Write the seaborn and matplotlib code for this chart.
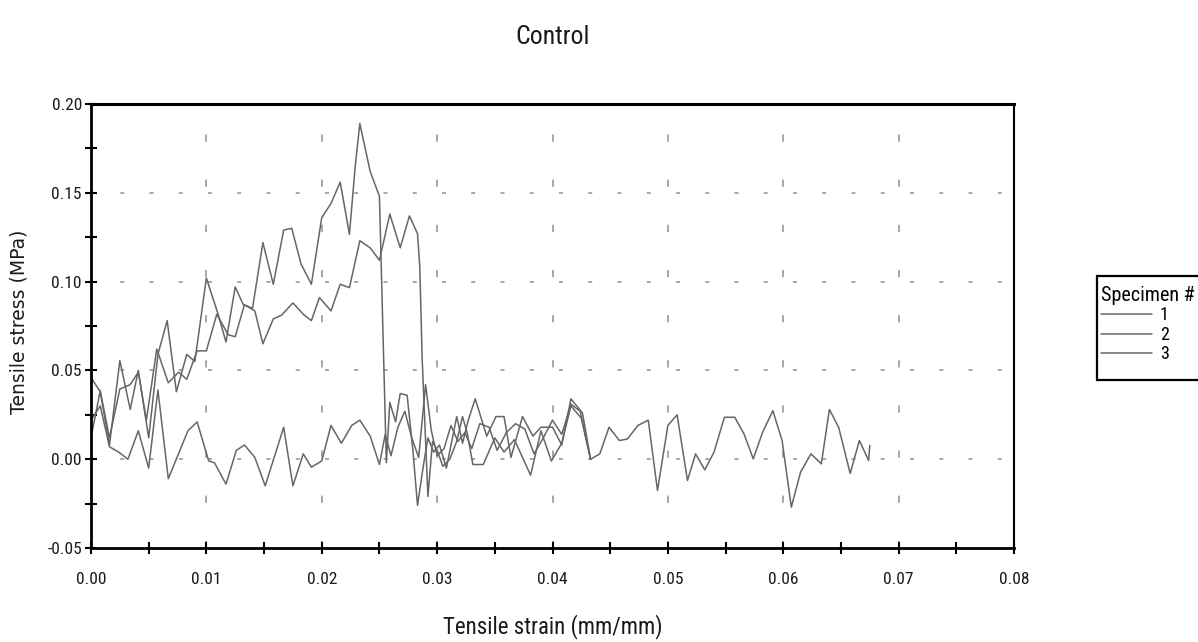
import numpy as np
import pandas as pd
import matplotlib
matplotlib.use("Agg")
import matplotlib.pyplot as plt
import seaborn as sns
from matplotlib.ticker import MultipleLocator, FormatStrFormatter
from matplotlib.patches import Rectangle
from matplotlib import font_manager

# ---------------- data ----------------
specimens = ["1", "2", "3"]

spec1_strain = [0.0000, 0.0008, 0.0016, 0.0025, 0.0034, 0.0041, 0.0050, 0.0058, 0.0066, 0.0074,
                0.0083, 0.0090, 0.0100, 0.0110, 0.0117, 0.0125, 0.0132, 0.0140, 0.0149, 0.0158,
                0.0167, 0.0174, 0.0182, 0.0191, 0.0200, 0.0208, 0.0216, 0.0224, 0.0229, 0.0233,
                0.0242, 0.0250, 0.0256, 0.0259, 0.0264, 0.0268, 0.0274, 0.0279, 0.0283, 0.0288,
                0.0292, 0.0297, 0.0302, 0.0308, 0.0317, 0.0322, 0.0327, 0.0333, 0.0343, 0.0351,
                0.0358, 0.0364, 0.0374, 0.0383, 0.0390, 0.0400, 0.0408, 0.0416, 0.0426, 0.0433]
spec1_stress = [0.046, 0.038, 0.008, 0.0555, 0.028, 0.050, 0.012, 0.059, 0.078, 0.038,
                0.059, 0.055, 0.102, 0.082, 0.066, 0.097, 0.087, 0.085, 0.122, 0.0985,
                0.129, 0.130, 0.110, 0.0985, 0.136, 0.144, 0.156, 0.1266, 0.165, 0.189,
                0.162, 0.148, -0.002, 0.032, 0.021, 0.037, 0.036, 0.005, -0.026, -0.004,
                0.012, 0.004, 0.008, -0.005, 0.024, 0.009, 0.022, 0.034, 0.013, 0.024,
                0.024, 0.001, 0.024, 0.013, 0.018, 0.018, 0.008, 0.034, 0.026, 0.000]

spec2_strain = [0.0000, 0.0008, 0.0016, 0.0025, 0.0034, 0.0041, 0.0048, 0.0057, 0.0067, 0.0076,
                0.0083, 0.0092, 0.0100, 0.0109, 0.0119, 0.0125, 0.0133, 0.0142, 0.0149, 0.0158,
                0.0165, 0.0175, 0.0184, 0.0191, 0.0198, 0.0208, 0.0216, 0.0224, 0.0233, 0.0242,
                0.0250, 0.0259, 0.0268, 0.0276, 0.0283, 0.0285, 0.0287, 0.0292, 0.0296, 0.0300,
                0.0305, 0.0311, 0.0317, 0.0322, 0.0326, 0.0331, 0.0340, 0.0350, 0.0358, 0.0367,
                0.0381, 0.0390, 0.0399, 0.0408, 0.0416, 0.0425, 0.0433]
spec2_stress = [0.012, 0.0386, 0.012, 0.0395, 0.042, 0.049, 0.022, 0.062, 0.043, 0.049,
                0.045, 0.061, 0.061, 0.0816, 0.070, 0.069, 0.087, 0.0835, 0.065, 0.079,
                0.081, 0.088, 0.0816, 0.078, 0.091, 0.0835, 0.0985, 0.0966, 0.123, 0.119,
                0.112, 0.138, 0.119, 0.137, 0.127, 0.108, 0.057, -0.021, 0.010, 0.005,
                -0.004, 0.000, 0.010, 0.024, 0.015, -0.003, -0.003, 0.012, 0.004, 0.011,
                -0.009, 0.016, -0.001, 0.009, 0.030, 0.023, 0.000]

spec3_strain = [0.0000, 0.0008, 0.0016, 0.0024, 0.0032, 0.0041, 0.0050, 0.0058, 0.0067, 0.0084,
                0.0092, 0.0102, 0.0107, 0.0117, 0.0126, 0.0133, 0.0142, 0.0151, 0.0167, 0.0175,
                0.0184, 0.0191, 0.0200, 0.0208, 0.0217, 0.0226, 0.0233, 0.0242, 0.0250, 0.0255,
                0.0260, 0.0266, 0.0272, 0.0278, 0.0284, 0.0290, 0.0295, 0.0300, 0.0306, 0.0312,
                0.0318, 0.0324, 0.0330, 0.0337, 0.0345, 0.0352, 0.0360, 0.0368, 0.0376, 0.0384,
                0.0392, 0.0400, 0.0408, 0.0416, 0.0424, 0.0433, 0.0441, 0.0449, 0.0458, 0.0465,
                0.0474, 0.0483, 0.0491, 0.0500, 0.0508, 0.0517, 0.0524, 0.0532, 0.0540, 0.0549,
                0.0558, 0.0566, 0.0574, 0.0582, 0.0591, 0.0599, 0.0607, 0.0615, 0.0624, 0.0633,
                0.0640, 0.0648, 0.0658, 0.0666, 0.0674, 0.0675]
spec3_stress = [0.022, 0.030, 0.007, 0.004, 0.000, 0.016, -0.005, 0.039, -0.011, 0.016,
                0.021, -0.001, -0.002, -0.014, 0.005, 0.008, 0.001, -0.015, 0.018, -0.015,
                0.003, -0.0045, -0.001, 0.019, 0.009, 0.019, 0.022, 0.013, -0.003, 0.014,
                0.002, 0.018, 0.027, 0.012, 0.001, 0.042, 0.016, 0.002, 0.006, 0.019,
                0.010, 0.015, 0.006, 0.020, 0.018, 0.005, 0.015, 0.020, 0.017, 0.003,
                0.012, 0.022, 0.014, 0.031, 0.027, 0.000, 0.003, 0.018, 0.0105, 0.0114,
                0.019, 0.022, -0.0176, 0.019, 0.025, -0.012, 0.003, -0.006, 0.004, 0.0236,
                0.0236, 0.0142, 0.0002, 0.015, 0.0273, 0.0105, -0.027, -0.0073, 0.003, -0.0026,
                0.028, 0.018, -0.008, 0.0105, -0.0008, 0.0077]

title_text = "Control"
x_label = "Tensile strain (mm/mm)"
y_label = "Tensile stress (MPa)"
legend_title = "Specimen #"

# ---------------- styling ----------------
sns.set_theme(style="white")
avail = {f.name for f in font_manager.fontManager.ttflist}
narrow = next((f for f in ["Liberation Sans Narrow", "Roboto Condensed", "DejaVu Sans"] if f in avail),
              "DejaVu Sans")
plt.rcParams["font.family"] = [narrow, "DejaVu Sans"]
plt.rcParams["text.color"] = "black"

df = pd.concat([
    pd.DataFrame({"strain": spec1_strain, "stress": spec1_stress, legend_title: specimens[0]}),
    pd.DataFrame({"strain": spec2_strain, "stress": spec2_stress, legend_title: specimens[1]}),
    pd.DataFrame({"strain": spec3_strain, "stress": spec3_stress, legend_title: specimens[2]}),
], ignore_index=True)

W, H = 1198, 642
fig = plt.figure(figsize=(W / 100, H / 100), dpi=100)
fig.patch.set_facecolor("white")
ax = fig.add_axes([91 / W, 1 - 548 / H, (1014 - 91) / W, (548 - 104) / H])
ax.set_facecolor("white")

line_gray = "#666666"
sns.lineplot(data=df, x="strain", y="stress", hue=legend_title, hue_order=specimens,
             palette=[line_gray] * 3, estimator=None, sort=False, linewidth=1.1,
             ax=ax, legend=True)

ax.set_xlim(0, 0.08)
ax.set_ylim(-0.05, 0.20)
ax.xaxis.set_major_locator(MultipleLocator(0.01))
ax.xaxis.set_minor_locator(MultipleLocator(0.005))
ax.yaxis.set_major_locator(MultipleLocator(0.05))
ax.yaxis.set_minor_locator(MultipleLocator(0.025))
ax.xaxis.set_major_formatter(FormatStrFormatter("%.2f"))
ax.yaxis.set_major_formatter(FormatStrFormatter("%.2f"))

ax.tick_params(which="both", direction="inout", length=9, width=1.5, color="black",
               labelcolor="#1a1a1a", labelsize=12.5)
ax.tick_params(axis="x", which="both", bottom=True, top=False, pad=13)
ax.tick_params(axis="y", which="both", left=True, right=False, pad=2)

grid_gray = "#a0a0a0"
ax.xaxis.grid(True, which="major", color=grid_gray, linewidth=1.3, linestyle=(0, (4, 21)))
ax.yaxis.grid(True, which="major", color=grid_gray, linewidth=1.3, linestyle=(0, (2.2, 14)))
ax.set_axisbelow(True)

for side, lw in {"left": 2.0, "bottom": 2.0, "top": 2.2, "right": 1.5}.items():
    ax.spines[side].set_visible(True)
    ax.spines[side].set_color("black")
    ax.spines[side].set_linewidth(lw)

ax.set_xlabel(x_label, fontsize=16.5, color="#1a1a1a")
ax.xaxis.set_label_coords(0.5, -0.148)
ax.set_ylabel(y_label, fontsize=13.5, color="#1a1a1a", family=["DejaVu Sans"])
ax.yaxis.set_label_coords(-0.068, 0.51)
ax.set_title(title_text, fontsize=18.5, pad=43, color="#1a1a1a")

# legend: box drawn as a frame in figure pixels, entries from the seaborn handles
handles, labels = ax.get_legend_handles_labels()
ax.get_legend().remove()
fig.patches.append(Rectangle((1097 / W, 1 - 380 / H), 110 / W, 104 / H,
                             transform=fig.transFigure, facecolor="white",
                             edgecolor="black", linewidth=1.6, zorder=1))
leg = fig.legend(handles, labels, title=legend_title, loc="upper left",
                 bbox_to_anchor=(1101 / W, 1 - 286 / H), bbox_transform=fig.transFigure,
                 frameon=False, fontsize=13, title_fontsize=14.5, handlelength=2.8,
                 handletextpad=0.45, borderpad=0.0, labelspacing=0.08, borderaxespad=0,
                 alignment="left")
leg.set_zorder(2)
for h in leg.get_lines():
    h.set_color(line_gray)
    h.set_linewidth(1.1)

fig.savefig("out.png", dpi=100)
